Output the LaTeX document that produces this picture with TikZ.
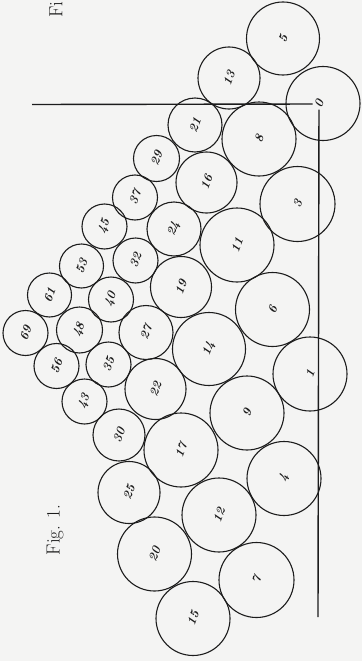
\documentclass[tikz,border=0pt]{standalone}
\definecolor{paper}{RGB}{244,244,243}
\definecolor{ink}{RGB}{28,28,28}
\begin{document}
\begin{tikzpicture}[x=1pt,y=-1pt,
  ring/.style={draw=ink, circle, line width=1.1pt, inner sep=0pt},
  num/.style={text=ink, inner sep=0.5pt, font=\fontsize{12.5}{12.5}\selectfont\bfseries\itshape, rotate=70},
  axisline/.style={draw=ink, line width=1.4pt},
  caption/.style={text=ink, font=\fontsize{19}{19}\selectfont, rotate=90, inner sep=0pt}]
\useasboundingbox (0,0) rectangle (362,661);
\fill[paper] (0,0) rectangle (362,661);
\clip (0,0) rectangle (362,661);
% circles
\foreach \n/\x/\y/\d in {
  5/283/38.5/73, 13/229/78/62, 21/195/125/54, 8/259/139/74,
  29/156.5/158.5/46, 16/206.5/182.5/61, 3/297.5/204/75, 37/135/197.5/45,
  45/104.5/226.5/45, 24/174/229/54, 11/237/245/74, 53/81.5/266/44,
  32/135.5/260.5/45, 19/181/287/61, 61/49.5/295/44, 40/111/299.5/45,
  6/272.5/309.5/74, 69/25.5/333/45, 48/79.5/330/46, 27/146/332.5/54,
  14/209/349/73, 56/56.5/366/45, 35/108.5/364.5/45, 1/310/374/74,
  22/155.5/389/61, 43/84.5/401.5/45, 9/247/413/74, 30/119/435/52,
  17/181/450/74, 4/284/478.5/74, 25/129/492.5/62, 12/219/515/74,
  20/154.5/554/74, 7/256.5/580/75, 15/193/618.5/74}{
  \node[ring, minimum size=\d pt] (c\n) at (\x,\y) {};
  \node[num] (t\n) at (c\n.center) {\n};
}
\node[ring, minimum size=74pt] (c0) at (323,103.5) {};
% axes
\node[num, inner sep=1.5pt] (lab0) at (319,104) {0};
\coordinate (hstart) at (32,104.5);
\coordinate (vend) at (318,617);
\draw[axisline] (hstart) -- (lab0);
\draw[axisline] (lab0) -- (vend);
% captions
\node[caption] (cap1) at (55,530) {Fig. 1.};
\node[caption, anchor=west] (cap2) at (56,18) {Fi};
\end{tikzpicture}
\end{document}
